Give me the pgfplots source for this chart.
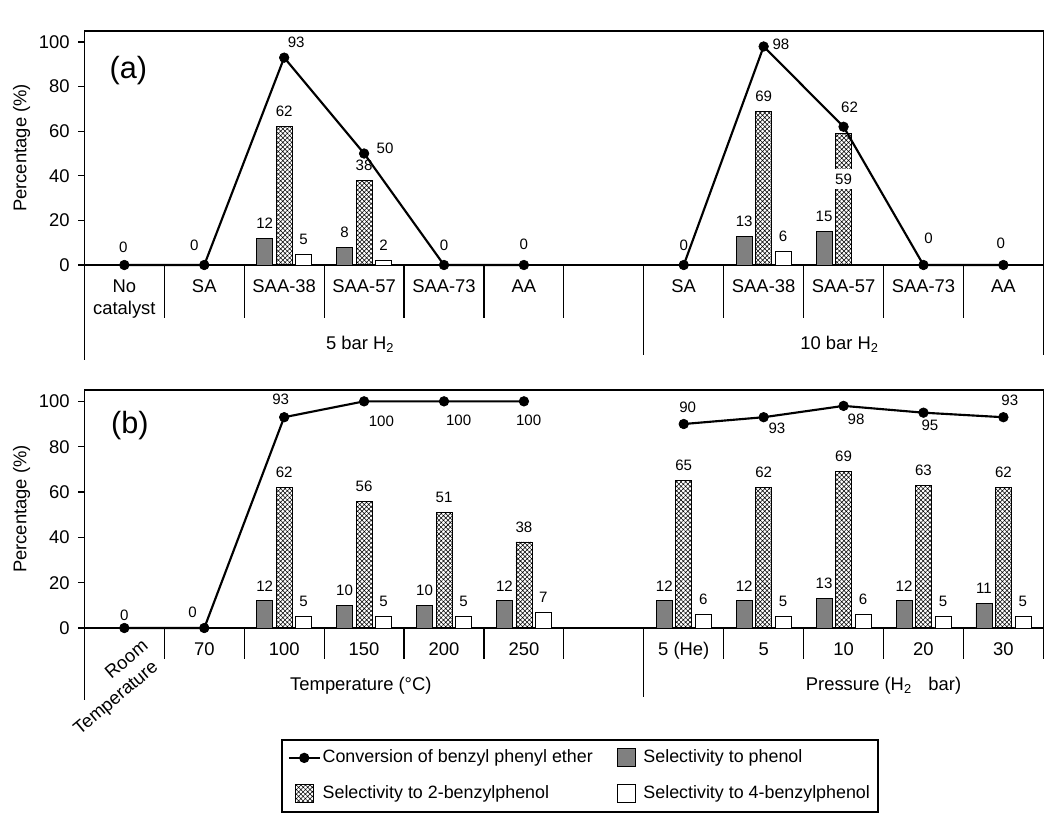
\documentclass[border=0pt]{standalone}
\usepackage{pgfplots}
\pgfplotsset{compat=1.18}
\usepackage{fontspec}
\setmainfont{Liberation Sans}
\usetikzlibrary{patterns.meta,calc}
\definecolor{phgray}{RGB}{128,128,128}
\newcommand{\lab}{\fontsize{11.3}{13}\selectfont}
\newcommand{\catf}{\fontsize{13.8}{16.5}\selectfont}
\newcommand{\legf}{\fontsize{13.4}{16}\selectfont}
\newcommand{\cl}[5]{\node[font=\lab, inner sep=0pt, xshift=#3, yshift=#4] at (axis cs:#1,#2) {#5};}
\newcommand{\ct}[2]{\node[font=\catf, anchor=base, yshift=-20.75pt] at (axis cs:#1,0) {#2};}
\pgfplotsset{
  panel/.style={
    scale only axis, width=719.2pt,
    xmin=-0.5, xmax=11.5, ymin=0, ymax=105,
    xtick=\empty, ytick={0,20,...,100},
    ytick pos=left, tick align=outside, major tick length=4.5pt,
    tick style={black, line width=0.8pt},
    axis line style={line width=1.2pt},
    /pgf/number format/assume math mode=true,
    tick label style={font=\catf},
    yticklabel style={xshift=-3pt},
    ylabel={Percentage (\%)},
    every axis y label/.style={at={(axis description cs:-0.0654,0.5)}, rotate=90, anchor=center, font=\catf},
    clip=false,
  },
  barc/.style={ybar, bar width=12pt, draw=black, line width=0.5pt},
  phen/.style={barc, bar shift=-14.6pt, fill=phgray, nodes near coords,
    nodes near coords style={font=\lab, inner sep=0pt, yshift=7pt, xshift=-14.6pt, text=black}},
  bptwo/.style={barc, bar shift=0pt, pattern={Hatch[angle=45,distance=2.4pt,line width=0.4pt]}, nodes near coords,
    nodes near coords style={font=\lab, inner sep=0pt, yshift=7pt, text=black}},
  bpfour/.style={barc, bar shift=14.6pt, fill=white, nodes near coords,
    nodes near coords style={font=\lab, inner sep=0pt, yshift=7pt, xshift=14.6pt, text=black}},
  conv/.style={black, line width=1.6pt, mark=*, mark size=3.6pt, mark options={solid, fill=black, line width=0.5pt}},
}
\begin{document}
\begin{tikzpicture}
\path[use as bounding box] (0,0) rectangle (797.25pt,-614.25pt);

% ---------------- panel (a)
\begin{axis}[panel, at={(63.3pt,-198.75pt)}, anchor=south west, height=175.6pt]
\addplot[phen] coordinates {(2,12) (3,8) (8,13) (9,15)};
\addplot[bptwo] coordinates {(2,62) (3,38) (8,69)};
\addplot[barc, bar shift=0pt, pattern={Hatch[angle=45,distance=2.4pt,line width=0.4pt]}] coordinates {(9,59)};
\addplot[bpfour] coordinates {(2,5) (3,2) (8,6)};
\node[font=\lab, fill=white, inner xsep=0.5pt, inner ysep=3.5pt, minimum width=12.5pt] at (axis cs:9,38.5) {59};
\addplot[conv] coordinates {(0,0) (1,0) (2,93) (3,50) (4,0) (5,0)};
\addplot[conv] coordinates {(7,0) (8,98) (9,62) (10,0) (11,0)};
\cl{0}{0}{-0.75pt}{13.5pt}{0}
\cl{1}{0}{-7.5pt}{15pt}{0}
\cl{2}{93}{9pt}{11.25pt}{93}
\cl{3}{50}{15.75pt}{3.75pt}{50}
\cl{4}{0}{0pt}{15pt}{0}
\cl{5}{0}{0pt}{15.75pt}{0}
\cl{7}{0}{0pt}{15pt}{0}
\cl{8}{98}{13pt}{1.5pt}{98}
\cl{9}{62}{4.5pt}{14.6pt}{62}
\cl{10}{0}{3.75pt}{20pt}{0}
\cl{11}{0}{-2pt}{16.5pt}{0}
\node[font=\fontsize{23}{27}\selectfont] at (axis cs:0.05,87.4) {(a)};
\pgfplotsinvokeforeach{0.5,1.5,2.5,3.5,4.5,5.5,7.5,8.5,9.5,10.5}{\draw[line width=0.9pt] (axis cs:#1,0) -- ++(0pt,-40pt);}
\draw[line width=0.9pt] (axis cs:-0.5,0) -- ++(0pt,-71pt);
\draw[line width=0.9pt] (axis cs:6.5,0) -- ++(0pt,-67.5pt);
\draw[line width=0.9pt] (axis cs:11.5,0) -- ++(0pt,-67.5pt);
\node[font=\catf, anchor=base, yshift=-20.75pt] at (axis cs:0,0) {No};
\node[font=\catf, anchor=base, yshift=-37.25pt] at (axis cs:0,0) {catalyst};
\ct{1}{SA}\ct{2}{SAA-38}\ct{3}{SAA-57}\ct{4}{SAA-73}\ct{5}{AA}
\ct{7}{SA}\ct{8}{SAA-38}\ct{9}{SAA-57}\ct{10}{SAA-73}\ct{11}{AA}
\node[font=\catf, anchor=base, yshift=-63.5pt] at (axis cs:2.95,0) {5 bar H\textsubscript{2}};
\node[font=\catf, anchor=base, yshift=-63.5pt] at (axis cs:8.95,0) {10 bar H\textsubscript{2}};
\end{axis}

% ---------------- panel (b)
\begin{axis}[panel, at={(63.3pt,-471pt)}, anchor=south west, height=178.5pt,
  legend style={at={(axis description cs:0.205,-0.4664)}, anchor=north west,
    draw=black, line width=1.3pt, inner xsep=4.5pt, inner ysep=4pt,
    font=\legf, row sep=8pt,
    nodes={inner xsep=1.5pt, inner ysep=3pt, text height=10pt, text depth=3pt},
    /tikz/every even column/.append style={column sep=12pt}},
  legend columns=2, legend cell align=left]
\addlegendimage{legend image code/.code={\path[draw=none,fill=none] (0pt,-7pt) rectangle (23pt,7pt); \draw[black, line width=1.6pt] (0pt,0pt) -- (23pt,0pt); \fill[black] (11.5pt,0pt) circle (3.2pt);}}
\addlegendentry{Conversion of benzyl phenyl ether}
\addlegendimage{legend image code/.code={\path[draw=none,fill=none] (0pt,-7pt) rectangle (23pt,7pt); \draw[draw=black, line width=0.7pt, fill=phgray] (4.75pt,-6.75pt) rectangle (18.25pt,6.75pt);}}
\addlegendentry{Selectivity to phenol}
\addlegendimage{legend image code/.code={\path[draw=none,fill=none] (0pt,-7pt) rectangle (23pt,7pt); \draw[draw=black, line width=0.7pt, pattern={Hatch[angle=45,distance=2.4pt,line width=0.4pt]}] (4.75pt,-6.75pt) rectangle (18.25pt,6.75pt);}}
\addlegendentry{Selectivity to 2-benzylphenol}
\addlegendimage{legend image code/.code={\path[draw=none,fill=none] (0pt,-7pt) rectangle (23pt,7pt); \draw[draw=black, line width=0.7pt, fill=white] (4.75pt,-6.75pt) rectangle (18.25pt,6.75pt);}}
\addlegendentry{Selectivity to 4-benzylphenol}
\addplot[phen, forget plot] coordinates {(2,12) (3,10) (4,10) (5,12) (7,12) (8,12) (9,13) (10,12) (11,11)};
\addplot[bptwo, forget plot] coordinates {(2,62) (3,56) (4,51) (5,38) (7,65) (8,62) (9,69) (10,63) (11,62)};
\addplot[bpfour, forget plot] coordinates {(2,5) (3,5) (4,5) (5,7) (7,6) (8,5) (9,6) (10,5) (11,5)};
\addplot[conv, forget plot] coordinates {(0,0) (1,0) (2,93) (3,100) (4,100) (5,100)};
\addplot[conv, forget plot] coordinates {(7,90) (8,93) (9,98) (10,95) (11,93)};
\cl{0}{0}{0pt}{9.5pt}{0}
\cl{1}{0}{-8.8pt}{12.1pt}{0}
\cl{2}{93}{-2.6pt}{13.4pt}{93}
\cl{3}{100}{13pt}{-15pt}{100}
\cl{4}{100}{11pt}{-14.5pt}{100}
\cl{5}{100}{3.5pt}{-14.5pt}{100}
\cl{7}{90}{3pt}{12.2pt}{90}
\cl{8}{93}{10pt}{-8.2pt}{93}
\cl{9}{98}{9.4pt}{-10.2pt}{98}
\cl{10}{95}{4.8pt}{-9.2pt}{95}
\cl{11}{93}{4.8pt}{12.5pt}{93}
\node[font=\fontsize{23}{27}\selectfont] at (axis cs:0.07,89.1) {(b)};
\pgfplotsinvokeforeach{0.5,1.5,2.5,3.5,4.5,5.5,7.5,8.5,9.5,10.5,11.5}{\draw[line width=0.9pt] (axis cs:#1,0) -- ++(0pt,-23.5pt);}
\draw[line width=0.9pt] (axis cs:-0.5,0) -- ++(0pt,-54pt);
\draw[line width=0.9pt] (axis cs:6.5,0) -- ++(0pt,-51.5pt);
\node[font=\catf, rotate=40, anchor=base east, inner sep=0pt] at ($(axis cs:0.311,0)+(0pt,-14.9pt)$) {Room};
\node[font=\catf, rotate=40, anchor=base east, inner sep=0pt] at ($(axis cs:0.436,0)+(0pt,-30.6pt)$) {Temperature};
\ct{1}{70}\ct{2}{100}\ct{3}{150}\ct{4}{200}\ct{5}{250}
\ct{7}{5 (He)}\ct{8}{5}\ct{9}{10}\ct{10}{20}\ct{11}{30}
\node[font=\catf, anchor=base, yshift=-47pt] at (axis cs:2.96,0) {Temperature (°C)};
\node[font=\catf, anchor=base, yshift=-47pt] at (axis cs:9.5,0) {Pressure (H\textsubscript{2}\hspace{0.9em}bar)};
\end{axis}
\end{tikzpicture}
\end{document}
